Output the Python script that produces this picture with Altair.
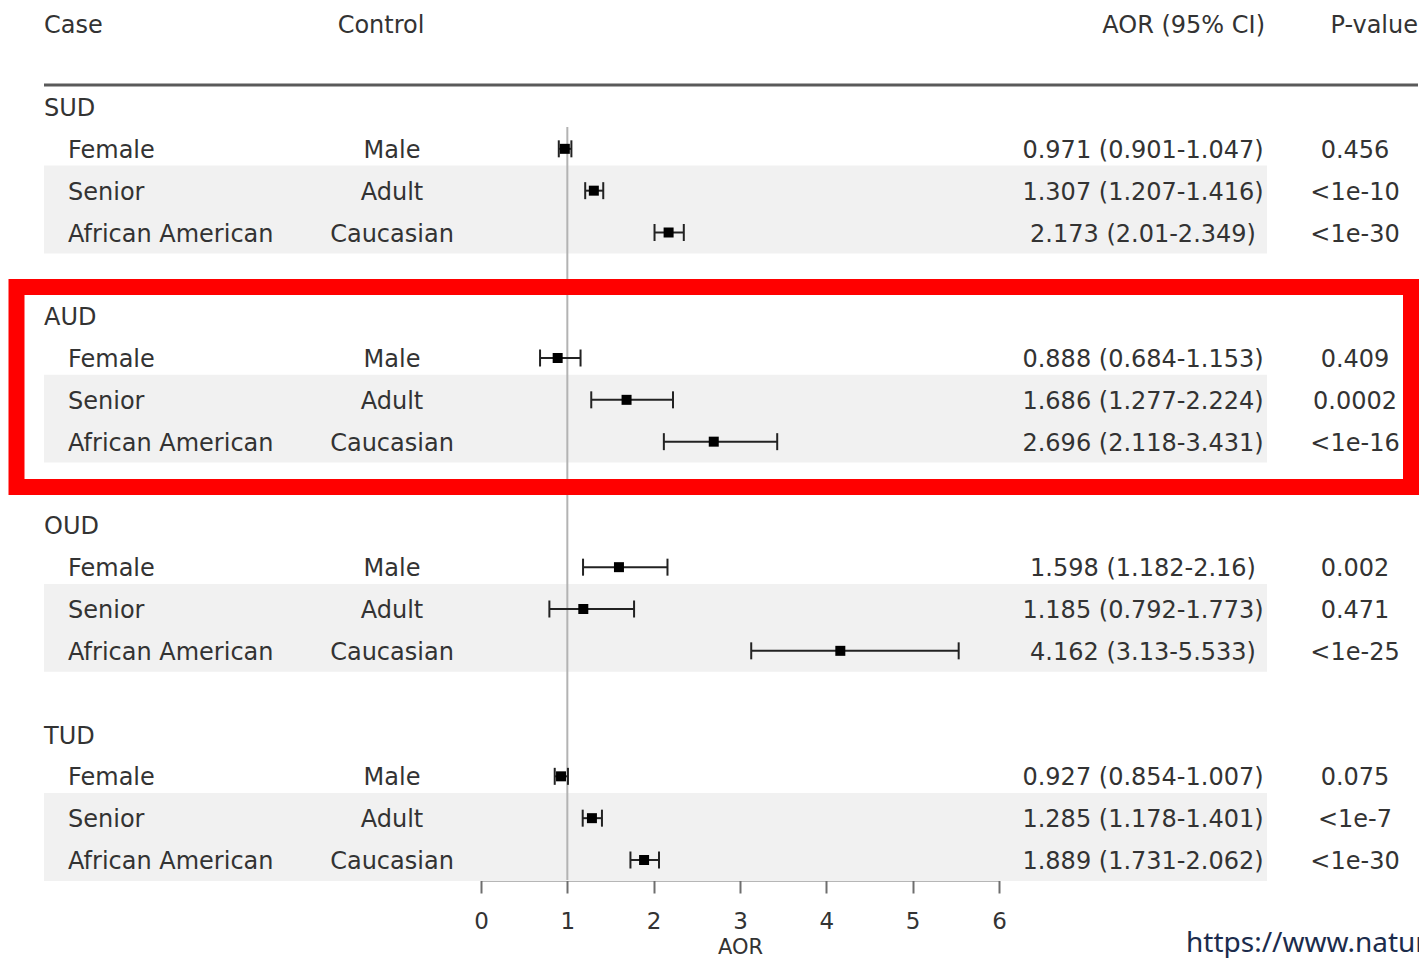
import altair as alt
import pandas as pd

# ---------------- data ----------------
groups = ["SUD", "AUD", "OUD", "TUD"]
cases = ["Female", "Senior", "African American"]
controls = ["Male", "Adult", "Caucasian"]
aor = [[0.971, 1.307, 2.173],
       [0.888, 1.686, 2.696],
       [1.598, 1.185, 4.162],
       [0.927, 1.285, 1.889]]
ci_low = [[0.901, 1.207, 2.01],
          [0.684, 1.277, 2.118],
          [1.182, 0.792, 3.13],
          [0.854, 1.178, 1.731]]
ci_high = [[1.047, 1.416, 2.349],
           [1.153, 2.224, 3.431],
           [2.16, 1.773, 5.533],
           [1.007, 1.401, 2.062]]
p_values = [["0.456", "<1e-10", "<1e-30"],
            ["0.409", "0.0002", "<1e-16"],
            ["0.002", "0.471", "<1e-25"],
            ["0.075", "<1e-7", "<1e-30"]]
x_ticks = [0, 1, 2, 3, 4, 5, 6]
header_labels = ["Case", "Control", "AOR (95% CI)", "P-value"]
axis_title = "AOR"
source_text = "https://www.nature.com"

# ---------------- tables ----------------
rows = []
grp_rows = []
bands = []
for gi, g in enumerate(groups):
    base = gi * 5
    grp_rows.append({"group": g, "row": base})
    bands.append({"top": base + 1.4, "bottom": base + 3.5})
    for j in range(3):
        rows.append({
            "group": g,
            "row": base + 1 + j,
            "case": cases[j],
            "control": controls[j],
            "aor": aor[gi][j],
            "lo": ci_low[gi][j],
            "hi": ci_high[gi][j],
            "aor_text": f"{aor[gi][j]} ({ci_low[gi][j]}-{ci_high[gi][j]})",
            "p": p_values[gi][j],
        })
df = pd.DataFrame(rows)
grp_df = pd.DataFrame(grp_rows)
band_df = pd.DataFrame(bands)
one = pd.DataFrame({"k": [0]})

FONT = "DejaVu Sans"
FS = 24
TXT = "#333333"

yscale = alt.Scale(domain=[0, 18], range=[99, 852])
xscale = alt.Scale(domain=[0, 6], range=[473, 991])

XAXIS = alt.Axis(values=x_ticks, title=axis_title, grid=False, format="d",
                 domainColor="#6e6e6e", domainWidth=2,
                 tickColor="#6e6e6e", tickWidth=2, tickSize=13,
                 labelFont=FONT, labelFontSize=23, labelColor=TXT,
                 labelPadding=17, labelFlush=False,
                 titleFont=FONT, titleFontSize=21, titleColor=TXT,
                 titleFontWeight="normal", titleY=73,
                 titleBaseline="alphabetic")


def Y(field):
    return alt.Y(f"{field}:Q", scale=yscale, axis=None)


def X(field):
    return alt.X(f"{field}:Q", scale=xscale, axis=XAXIS)


band_layer = alt.Chart(band_df).mark_rect(color="#f1f1f1").encode(
    x=alt.value(36), x2=alt.value(1259),
    y=Y("top"), y2="bottom:Q",
)

ref_line = alt.Chart(one).mark_rule(color="#b3b3b3", strokeWidth=2).encode(
    x=alt.XDatum(1, scale=xscale, axis=XAXIS),
    y=alt.YDatum(0.48, scale=yscale, axis=None),
    y2=alt.value(872),
)

header_line = alt.Chart(one).mark_rule(color="#5a5a5a", strokeWidth=3).encode(
    x=alt.value(36), x2=alt.value(1410), y=alt.value(77)
)

ci_line = alt.Chart(df).mark_rule(color="#222222", strokeWidth=2).encode(
    x=X("lo"), x2="hi:Q", y=Y("row")
)

cap_shape = "M0,-1L0,1"
cap_lo = alt.Chart(df).mark_point(shape=cap_shape, size=289, filled=False,
                                  strokeWidth=2, color="#222222", opacity=1).encode(
    x=X("lo"), y=Y("row"))
cap_hi = alt.Chart(df).mark_point(shape=cap_shape, size=289, filled=False,
                                  strokeWidth=2, color="#222222", opacity=1).encode(
    x=X("hi"), y=Y("row"))

points = alt.Chart(df).mark_square(size=100, color="#000000", opacity=1).encode(
    x=X("aor"),
    y=Y("row"),
)


def text_layer(data, field, xpos, align, dy=2):
    return alt.Chart(data).mark_text(align=align, baseline="middle", font=FONT,
                                     fontSize=FS, color=TXT, dy=dy).encode(
        x=alt.value(xpos), y=Y("row"), text=f"{field}:N")


grp_text = text_layer(grp_df, "group", 36, "left")
case_text = text_layer(df, "case", 60, "left")
ctrl_text = text_layer(df, "control", 384, "center")
aor_text = text_layer(df, "aor_text", 1135, "center")
p_text = text_layer(df, "p", 1347, "center")

header_pos = [(36, "left"), (373, "center"), (1257, "right"), (1410, "right")]
headers = []
for lab, (xp, al) in zip(header_labels, header_pos):
    hdf = pd.DataFrame({"label": [lab], "row": [-2]})
    headers.append(text_layer(hdf, "label", xp, al, dy=3))

red_box = alt.Chart(one).mark_rect(fillOpacity=0, stroke="#ff0000", strokeWidth=16).encode(
    x=alt.value(8.5), x2=alt.value(1403), y=alt.value(279), y2=alt.value(479)
)

url_text = alt.Chart(one).mark_text(align="left", baseline="alphabetic", font="Noto Sans",
                                    fontSize=28, color="#1c2c4c", text=source_text).encode(
    x=alt.value(1178), y=alt.value(944)
)

chart = alt.layer(
    band_layer, ref_line, header_line, ci_line, cap_lo, cap_hi, points,
    grp_text, case_text, ctrl_text, aor_text, p_text, *headers, red_box, url_text
).properties(
    width=1411, height=872,
    autosize=alt.AutoSizeParams(type="none"),
    padding={"left": 0, "top": 0, "right": 0, "bottom": 78},
    background="#ffffff",
).configure_view(stroke=None)

chart.save("out.html", embed_options={"renderer": "svg", "actions": False})
